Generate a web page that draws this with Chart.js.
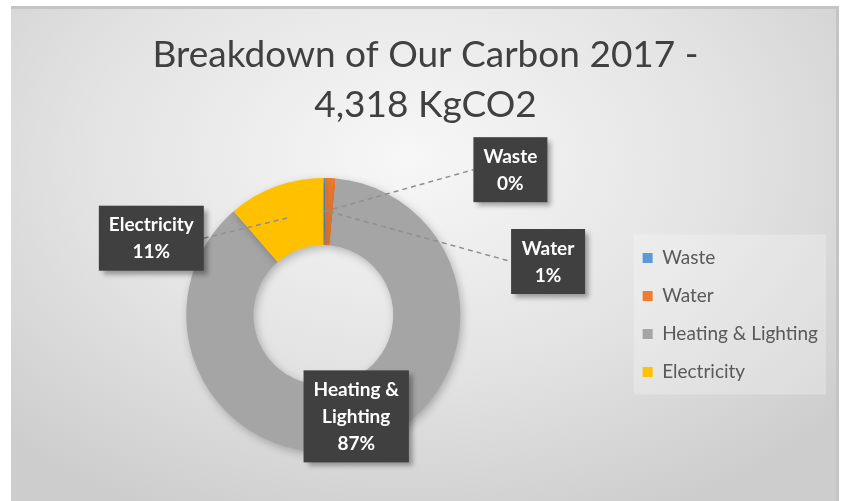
<!DOCTYPE html>
<html>
<head>
<meta charset="utf-8">
<script src="https://cdn.jsdelivr.net/npm/chart.js@4"></script>
<style>
    body { margin: 0; background: #ffffff; }
    #frame {
        position: absolute; left: 11px; top: 6px; width: 825px; height: 492px;
        border-top: 3px solid #c4c4c4; border-right: 3px solid #c4c4c4;
        background: radial-gradient(ellipse 70% 80% at 48% 30%, #f7f7f7 0%, #e3e3e3 55%, #cdcdcd 100%);
    }
    #carbon { position: absolute; left: 0; top: 0; }
</style>
</head>
<body>
<div id="frame"></div>
<canvas id="carbon" width="846" height="501"></canvas>
<script>
// Breakdown of carbon 2017 (KgCO2), total 4,318
const categories = ['Waste', 'Water', 'Heating & Lighting', 'Electricity'];
const emissions = [13, 50, 3765, 490];
const sliceColours = ['#5B9BD5', '#ED7D31', '#A5A5A5', '#FFC000'];
const titleLines = ['Breakdown of Our Carbon 2017 -', '4,318 KgCO2'];

// where each data label box sits, relative to the ring centre (in outer radii)
const labelOffsets = [[1.365, -1.06], [1.64, -0.39], [0.24, 0.74], [-1.255, -0.56]];
const leaderLines = [true, true, false, true];

const total = emissions.reduce((a, b) => a + b, 0);

function wrapText(ctx, text, maxWidth) {
    const words = text.split(' ');
    let lines = [];
    let line = '';
    words.forEach(w => {
        const test = line ? line + ' ' + w : w;
        if (ctx.measureText(test).width > maxWidth && line) {
            lines.push(line);
            line = w;
        } else {
            line = test;
        }
    });
    lines.push(line);
    return lines;
}

// light box behind the legend
const legendBox = {
    id: 'legendBox',
    beforeDraw(chart) {
        const lg = chart.legend;
        if (!lg || !lg.legendHitBoxes.length) return;
        const boxes = lg.legendHitBoxes;
        const x0 = Math.min(...boxes.map(b => b.left)) - 9;
        const y0 = Math.min(...boxes.map(b => b.top)) - 14;
        const x1 = Math.max(...boxes.map(b => b.left + b.width)) + 8;
        const y1 = Math.max(...boxes.map(b => b.top + b.height)) + 13;
        const ctx = chart.ctx;
        ctx.save();
        ctx.fillStyle = 'rgba(255,255,255,0.25)';
        ctx.fillRect(x0, y0, x1 - x0, y1 - y0);
        ctx.restore();
    }
};

// soft shadow under the ring
const ringShadow = {
    id: 'ringShadow',
    beforeDatasetsDraw(chart) {
        const ctx = chart.ctx;
        ctx.save();
        ctx.shadowColor = 'rgba(0,0,0,0.25)';
        ctx.shadowBlur = 8;
        ctx.shadowOffsetX = 2;
        ctx.shadowOffsetY = 3;
    },
    afterDatasetsDraw(chart) {
        chart.ctx.restore();
    }
};

// dark callout boxes with leader lines, like the Excel data labels
const calloutLabels = {
    id: 'calloutLabels',
    afterDatasetsDraw(chart) {
        const ctx = chart.ctx;
        const meta = chart.getDatasetMeta(0);
        ctx.save();
        ctx.font = 'bold 19px Lato';
        const lineH = 27;
        meta.data.forEach((arc, i) => {
            const R = arc.outerRadius;
            const cx = arc.x + labelOffsets[i][0] * R;
            const cy = arc.y + labelOffsets[i][1] * R;
            const pct = Math.round(emissions[i] / total * 100) + '%';
            const lines = wrapText(ctx, categories[i], 100).concat([pct]);
            const tw = Math.max(...lines.map(l => ctx.measureText(l).width));
            const w = Math.max(tw + 20, 74);
            const h = lines.length * lineH + 11;
            const left = cx - w / 2, top = cy - h / 2;

            if (leaderLines[i]) {
                const p = arc.tooltipPosition();
                const ex = p.x < left ? left : left + w;
                ctx.save();
                ctx.strokeStyle = '#8f8f8f';
                ctx.lineWidth = 1.5;
                ctx.setLineDash([5, 4]);
                ctx.beginPath();
                ctx.moveTo(p.x, p.y);
                ctx.lineTo(ex, cy);
                ctx.stroke();
                ctx.restore();
            }

            ctx.save();
            ctx.shadowColor = 'rgba(0,0,0,0.35)';
            ctx.shadowBlur = 5;
            ctx.shadowOffsetX = 4;
            ctx.shadowOffsetY = 4;
            ctx.fillStyle = '#404040';
            ctx.fillRect(left, top, w, h);
            ctx.restore();

            ctx.fillStyle = '#ffffff';
            ctx.textAlign = 'center';
            ctx.textBaseline = 'middle';
            lines.forEach((l, k) => {
                ctx.fillText(l, cx, top + 6 + lineH * (k + 0.5));
            });
        });
        ctx.restore();
    }
};

const ctx = document.getElementById('carbon');

new Chart(ctx, {
    type: 'doughnut',
    data: {
        labels: categories,
        datasets: [{
            data: emissions,
            backgroundColor: sliceColours,
            borderWidth: 0,
        }]
    },
    options: {
        responsive: false,
        animation: false,
        cutout: '51%',
        layout: {
            padding: { left: 23, right: 18, top: 0, bottom: 49 }
        },
        plugins: {
            title: {
                display: true,
                text: titleLines,
                color: '#404040',
                font: { family: 'Lato', size: 37, weight: 'normal', lineHeight: 1.35 },
                padding: { top: 30, bottom: 48 },
            },
            legend: {
                position: 'right',
                fullSize: false,
                labels: {
                    boxWidth: 10,
                    boxHeight: 10,
                    padding: 19,
                    color: '#595959',
                    font: { family: 'Lato', size: 19 },
                }
            },
            tooltip: { enabled: false },
        }
    },
    plugins: [legendBox, ringShadow, calloutLabels],
});
</script>
</body>
</html>
